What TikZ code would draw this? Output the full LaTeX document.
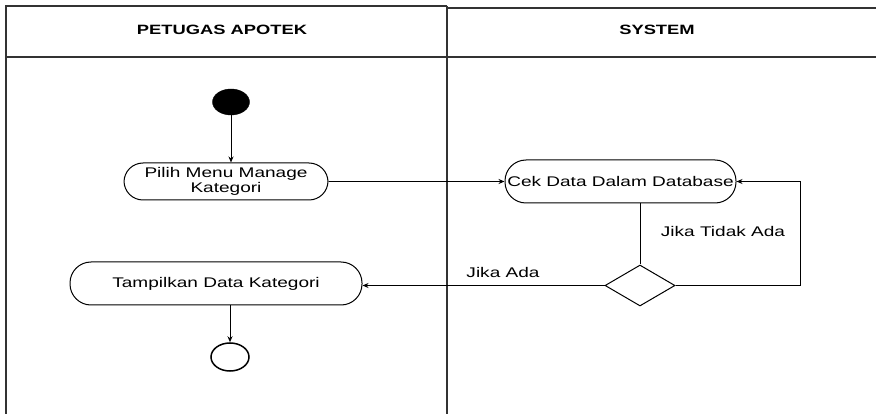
\documentclass[tikz,border=0pt]{standalone}
\usepackage{fontspec}
\setmainfont{Liberation Sans}
\newfontfamily\wide[FakeStretch=1.36]{Liberation Sans}
\usetikzlibrary{arrows.meta,shapes.geometric}
\begin{document}
\begin{tikzpicture}[x=1pt,y=-1pt,
  lane/.style={line width=1.4pt, draw=black!80},
  act/.style={draw, line width=1pt, rounded corners=19pt, inner sep=0pt,
    font=\wide\fontsize{14}{15.5}\selectfont, align=center},
  flow/.style={line width=1pt, -{Stealth[length=6pt,width=5pt]}},
  plain/.style={line width=1pt},
  lbl/.style={font=\wide\fontsize{14}{15.5}\selectfont},
  hdr/.style={font=\wide\bfseries\fontsize{13.5}{15}\selectfont}]
\useasboundingbox (0,0) rectangle (876,414);

% swimlane frame
\draw[lane] (6,414) -- (6,6) -- (447,6);
\draw[lane] (447,8) -- (876,8);
\draw[lane] (6,57) -- (876,57);
\draw[lane] (447,6) -- (447,414);
\node[hdr] (lane1) at (222,30) {PETUGAS APOTEK};
\node[hdr] (lane2) at (657,30) {SYSTEM};

% activity nodes
\node[draw, fill=black, ellipse, minimum width=37pt, minimum height=26pt, inner sep=0pt] (start) at (231,102) {};
\node[act, minimum width=204pt, minimum height=37pt] (pilih) at (226,181.5) {Pilih Menu Manage\\Kategori};
\node[act, minimum width=231pt, minimum height=43pt, rounded corners=21pt] (cek) at (620.5,181.5) {Cek Data Dalam Database};
\node[draw, diamond, line width=1pt, minimum width=70pt, minimum height=41pt, inner sep=0pt] (dia) at (640,285.5) {};
\node[act, minimum width=292pt, minimum height=43pt, rounded corners=21pt] (tamp) at (216,283.5) {Tampilkan Data Kategori};
\node[draw, ellipse, line width=1.5pt, minimum width=38pt, minimum height=28pt, inner sep=0pt] (end) at (230,357) {};

% guard labels
\node[lbl] (tidak) at (723,231) {Jika Tidak Ada};
\node[lbl] (ada) at (503,272) {Jika Ada};

% connectors
\coordinate (loop) at (800,181.5);
\draw[flow] (start) -- (start |- pilih.north);
\draw[flow] (pilih.east) -- (cek.west);
\draw[plain] (dia.north) -- (dia.north |- cek.south);
\draw[flow] (dia.east) -| (loop) -- (cek.east);
\draw[flow] (dia.west) -- (dia.west -| tamp.east);
\draw[flow] (end |- tamp.south) -- (end.north);
\end{tikzpicture}
\end{document}
